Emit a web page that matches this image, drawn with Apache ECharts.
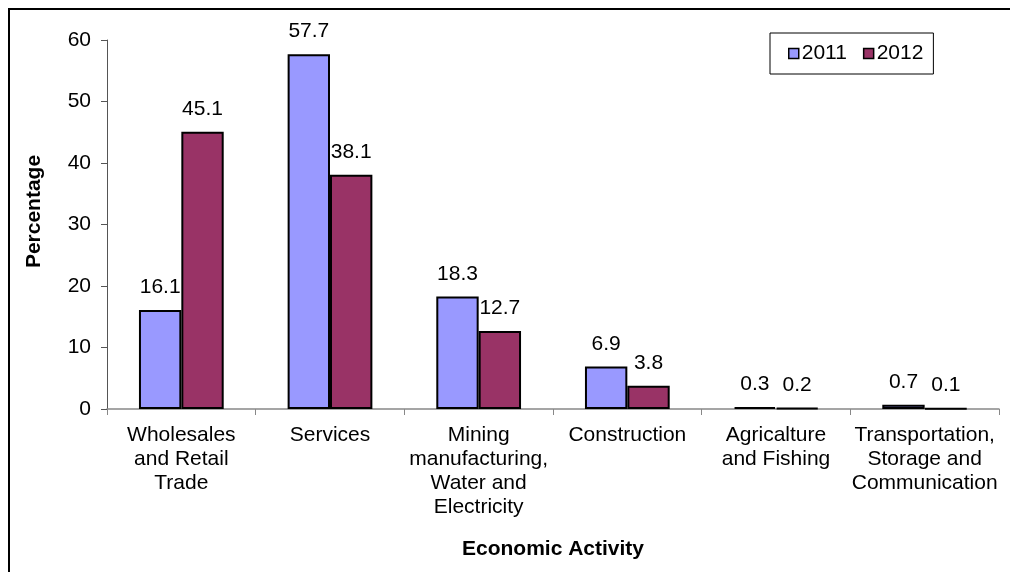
<!DOCTYPE html>
<html><head><meta charset="utf-8">
<script src="https://cdn.jsdelivr.net/npm/echarts@6/dist/echarts.min.js"></script>
<style>html,body{margin:0;padding:0;background:#fff}#c{width:1010px;height:572px}</style>
</head><body><div id="c"></div>
<script>
const categories = ["Wholesales\nand Retail\nTrade", "Services", "Mining\nmanufacturing,\nWater and\nElectricity", "Construction", "Agricalture\nand Fishing", "Transportation,\nStorage and\nCommunication"];
const values2011 = [16.1, 57.7, 18.3, 6.9, 0.3, 0.7];
const values2012 = [45.1, 38.1, 12.7, 3.8, 0.2, 0.1];
const seriesNames = ["2011", "2012"];
const yTicks = [0, 10, 20, 30, 40, 50, 60];

const FONT = "'Liberation Sans', Arial, sans-serif";
const FS = 21;
const chart = echarts.init(document.getElementById('c'), null, {renderer: 'canvas'});
const labelStyle = {show: true, position: 'top', distance: 12, color: '#000', fontSize: FS, fontFamily: FONT, formatter: p => p.value.toFixed(1)};
chart.setOption({
  animation: false,
  backgroundColor: '#fff',
  graphic: [{type: 'rect', shape: {x: 9, y: 9, width: 1020, height: 620}, style: {fill: 'none', stroke: '#000', lineWidth: 2}, z: -1}],
  grid: {left: 107, right: 11, top: 40, bottom: 163},
  legend: {
    left: 770, top: 33, orient: 'horizontal',
    data: seriesNames,
    borderColor: '#000', borderWidth: 1, padding: [10, 10, 10, 18],
    itemWidth: 10, itemHeight: 10, itemGap: 16, icon: 'rect',
    textStyle: {fontSize: FS, fontFamily: FONT, color: '#000', padding: [0, 0, 0, -2]},
    itemStyle: {borderColor: '#000', borderWidth: 1.5}
  },
  xAxis: {
    type: 'category', data: categories,
    name: 'Economic Activity', nameLocation: 'middle', nameGap: 130,
    nameTextStyle: {fontSize: FS, fontWeight: 'bold', fontFamily: FONT, color: '#000'},
    axisLine: {lineStyle: {color: '#888', width: 1.5}},
    axisTick: {show: true, length: 6, lineStyle: {color: '#888'}},
    axisLabel: {fontSize: FS, fontFamily: FONT, color: '#000', lineHeight: 24, margin: 14, interval: 0}
  },
  yAxis: {
    type: 'value', min: 0, max: 60, interval: 10,
    name: 'Percentage', nameLocation: 'middle', nameGap: 62, nameRotate: 90,
    nameTextStyle: {fontSize: FS, fontWeight: 'bold', fontFamily: FONT, color: '#000', padding: [0, 0, 0, 26]},
    axisLine: {show: true, lineStyle: {color: '#555', width: 1}},
    axisTick: {show: true, length: 6, lineStyle: {color: '#555'}},
    splitLine: {show: false},
    axisLabel: {fontSize: FS, fontFamily: FONT, color: '#000', margin: 16, formatter: v => yTicks.includes(v) ? String(v) : ''}
  },
  series: [
    {name: seriesNames[0], type: 'bar', data: values2011, barGap: '0%', barCategoryGap: '43%',
     itemStyle: {color: '#9999FF', borderColor: '#000', borderWidth: 2}, label: labelStyle},
    {name: seriesNames[1], type: 'bar', data: values2012, barGap: '0%', barCategoryGap: '43%',
     itemStyle: {color: '#993366', borderColor: '#000', borderWidth: 2}, label: labelStyle}
  ]
});
</script></body></html>
